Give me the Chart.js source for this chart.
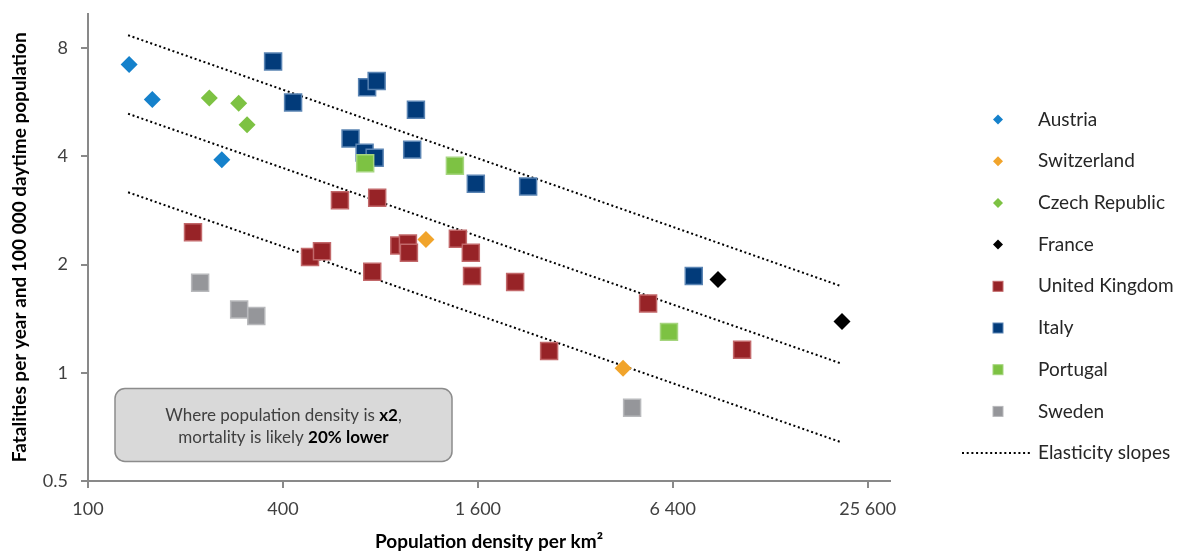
<!DOCTYPE html>
<html>
<head>
<meta charset="utf-8">
<script src="https://cdn.jsdelivr.net/npm/chart.js@4/dist/chart.umd.min.js"></script>
<style>
  html, body { margin: 0; padding: 0; background: #fff; }
  #wrap { width: 1177px; height: 551px; position: relative; }
</style>
</head>
<body>
<div id="wrap"><canvas id="densityChart"></canvas></div>
<script>
// tick values
const xTicks = [100, 400, 1600, 6400, 25600];
const yTicks = [0.5, 1, 2, 4, 8];

// population density per km² / fatalities per year and 100 000 daytime population
const austriaDensity = [134, 158, 259];
const austriaRate = [7.21, 5.76, 3.92];
const switzerlandDensity = [1106, 4495];
const switzerlandRate = [2.35, 1.03];
const czechDensity = [237, 292, 310];
const czechRate = [5.82, 5.63, 4.90];
const franceDensity = [8830, 21320];
const franceRate = [1.82, 1.39];
const ukDensity = [211, 600, 782, 485, 528, 755, 915, 973, 980, 1388, 1522, 1535, 2086, 2656, 5370, 10480];
const ukRate = [2.46, 3.02, 3.07, 2.10, 2.18, 1.91, 2.26, 2.29, 2.16, 2.36, 2.16, 1.86, 1.79, 1.15, 1.56, 1.16];
const italyDensity = [373, 430, 728, 779, 1030, 647, 715, 768, 1003, 1577, 2288, 7430];
const italyRate = [7.35, 5.65, 6.23, 6.49, 5.40, 4.49, 4.10, 3.97, 4.18, 3.36, 3.30, 1.86];
const portugalDensity = [718, 1359, 6230];
const portugalRate = [3.83, 3.77, 1.30];
const swedenDensity = [222, 293, 331, 4793];
const swedenRate = [1.78, 1.50, 1.44, 0.80];

// elasticity slopes (three parallel lines)
const slopeDensity = [133, 21300];
const slopeHigh = [8.70, 1.74];
const slopeMid = [5.26, 1.06];
const slopeLow = [3.18, 0.64];

const FONT = "Lato, 'Noto Sans', sans-serif";
const axisGray = "#898989";

const toPoints = (xs, ys) => xs.map((x, i) => ({ x: x, y: ys[i] }));

const diamond = (label, xs, ys, color, order) => ({
  label, data: toPoints(xs, ys), order,
  pointStyle: "rectRot", pointRadius: 8.5, pointHoverRadius: 8.5,
  backgroundColor: color, borderColor: color, borderWidth: 0,
});
const square = (label, xs, ys, fill, border, order) => ({
  label, data: toPoints(xs, ys), order,
  pointStyle: "rect", pointRadius: 12, pointHoverRadius: 12,
  backgroundColor: fill, borderColor: border, borderWidth: 1.5,
});
const slope = (ys) => ({
  label: "Elasticity slopes", type: "line", data: toPoints(slopeDensity, ys), order: 20,
  borderColor: "#000", borderWidth: 2, borderDash: [2, 2.7], pointRadius: 0, fill: false,
});

const legendItems = [
  { label: "Austria", shape: "diamond", fill: "#1581CB" },
  { label: "Switzerland", shape: "diamond", fill: "#F1A42B" },
  { label: "Czech Republic", shape: "diamond", fill: "#7DC243" },
  { label: "France", shape: "diamond", fill: "#000000" },
  { label: "United Kingdom", shape: "square", fill: "#972327", border: "#C2686A" },
  { label: "Italy", shape: "square", fill: "#023B7A", border: "#5A84B3" },
  { label: "Portugal", shape: "square", fill: "#7DC243", border: "#A6D57F" },
  { label: "Sweden", shape: "square", fill: "#95969A", border: "#B8B9BC" },
  { label: "Elasticity slopes", shape: "line" },
];

// legend on the right, drawn by hand so each marker keeps its own shape
const sideLegend = {
  id: "sideLegend",
  afterDraw(chart) {
    const { ctx, chartArea } = chart;
    const mx = chartArea.right + 108;
    const tx = chartArea.right + 148;
    ctx.save();
    ctx.font = "19px " + FONT;
    ctx.textBaseline = "middle";
    legendItems.forEach((it, i) => {
      const y = chartArea.top + 106 + i * 41.7;
      if (it.shape === "diamond") {
        ctx.fillStyle = it.fill;
        ctx.beginPath();
        ctx.moveTo(mx - 5, y); ctx.lineTo(mx, y - 5); ctx.lineTo(mx + 5, y); ctx.lineTo(mx, y + 5);
        ctx.closePath(); ctx.fill();
      } else if (it.shape === "square") {
        ctx.fillStyle = it.fill;
        ctx.strokeStyle = it.border;
        ctx.lineWidth = 1;
        ctx.fillRect(mx - 5, y - 5, 10, 10);
        ctx.strokeRect(mx - 5, y - 5, 10, 10);
      } else {
        ctx.strokeStyle = "#000";
        ctx.lineWidth = 2;
        ctx.setLineDash([2, 2.7]);
        ctx.beginPath(); ctx.moveTo(mx - 36, y); ctx.lineTo(tx - 8, y); ctx.stroke();
        ctx.setLineDash([]);
      }
      ctx.fillStyle = "#262626";
      ctx.fillText(it.label, tx, y);
    });
    ctx.restore();
  },
};

// rounded call-out box in the lower left of the plot
const noteBox = {
  id: "noteBox",
  afterDatasetsDraw(chart) {
    const { ctx, chartArea } = chart;
    const left = chartArea.left + 27, top = chartArea.top + 375, w = 337, h = 73, r = 10;
    ctx.save();
    ctx.beginPath();
    ctx.roundRect(left, top, w, h, r);
    ctx.fillStyle = "#D9D9D9";
    ctx.fill();
    ctx.lineWidth = 1.5;
    ctx.strokeStyle = "#8C8C8C";
    ctx.stroke();

    const lines = [
      [["Where population density is ", false], ["x2", true], [",", false]],
      [["mortality is likely ", false], ["20% lower", true]],
    ];
    ctx.textBaseline = "middle";
    const cx = left + w / 2;
    lines.forEach((parts, i) => {
      const y = top + 27 + i * 22;
      let total = 0;
      parts.forEach(([t, b]) => {
        ctx.font = (b ? "bold " : "") + "17px " + FONT;
        total += ctx.measureText(t).width;
      });
      let x = cx - total / 2;
      parts.forEach(([t, b]) => {
        ctx.font = (b ? "bold " : "") + "17px " + FONT;
        ctx.fillStyle = b ? "#000" : "#404040";
        ctx.fillText(t, x, y);
        x += ctx.measureText(t).width;
      });
    });
    ctx.restore();
  },
};

const fmt = (v) => String(v).replace(/\B(?=(\d{3})+(?!\d))/g, " ");

new Chart(document.getElementById("densityChart"), {
  type: "scatter",
  data: {
    datasets: [
      diamond("Austria", austriaDensity, austriaRate, "#1581CB", 3),
      diamond("Switzerland", switzerlandDensity, switzerlandRate, "#F1A42B", 2),
      diamond("Czech Republic", czechDensity, czechRate, "#7DC243", 4),
      diamond("France", franceDensity, franceRate, "#000000", 1),
      square("United Kingdom", ukDensity, ukRate, "#972327", "#C2686A", 7),
      square("Italy", italyDensity, italyRate, "#023B7A", "#5A84B3", 8),
      square("Portugal", portugalDensity, portugalRate, "#7DC243", "#A6D57F", 5),
      square("Sweden", swedenDensity, swedenRate, "#95969A", "#B8B9BC", 6),
      slope(slopeHigh),
      slope(slopeMid),
      slope(slopeLow),
    ],
  },
  options: {
    responsive: true,
    maintainAspectRatio: false,
    animation: false,
    layout: { padding: { top: 13, right: 287, bottom: 0, left: 0 } },
    plugins: {
      legend: { display: false },
      tooltip: { enabled: false },
    },
    scales: {
      x: {
        type: "logarithmic",
        min: 100,
        max: 30000,
        afterBuildTicks: (scale) => { scale.ticks = xTicks.map((v) => ({ value: v })); },
        afterFit: (scale) => { scale.height = 70; },
        ticks: {
          callback: (v) => fmt(v),
          color: "#404040",
          font: { family: FONT, size: 18 },
          padding: 10,
          maxRotation: 0,
        },
        grid: { drawOnChartArea: false, color: axisGray, lineWidth: 2, tickLength: 7 },
        border: { color: axisGray, width: 2 },
        title: {
          display: true,
          text: "Population density per km²",
          color: "#000",
          font: { family: FONT, size: 19, weight: "bold" },
          padding: { top: 0, bottom: -2 },
        },
      },
      y: {
        type: "logarithmic",
        min: 0.5,
        max: 10,
        afterBuildTicks: (scale) => { scale.ticks = yTicks.map((v) => ({ value: v })); },
        afterFit: (scale) => { scale.width = 88; scale.paddingTop = 0; scale.paddingBottom = 0; },
        ticks: {
          callback: (v) => String(v),
          color: "#404040",
          font: { family: FONT, size: 18 },
          padding: 13,
        },
        grid: { drawOnChartArea: false, color: axisGray, lineWidth: 2, tickLength: 7 },
        border: { color: axisGray, width: 2 },
        title: {
          display: true,
          text: "Fatalities per year and 100 000 daytime population",
          color: "#000",
          font: { family: FONT, size: 19, weight: "bold" },
          padding: { top: 8.6, bottom: 0 },
        },
      },
    },
  },
  plugins: [noteBox, sideLegend],
});
</script>
</body>
</html>
